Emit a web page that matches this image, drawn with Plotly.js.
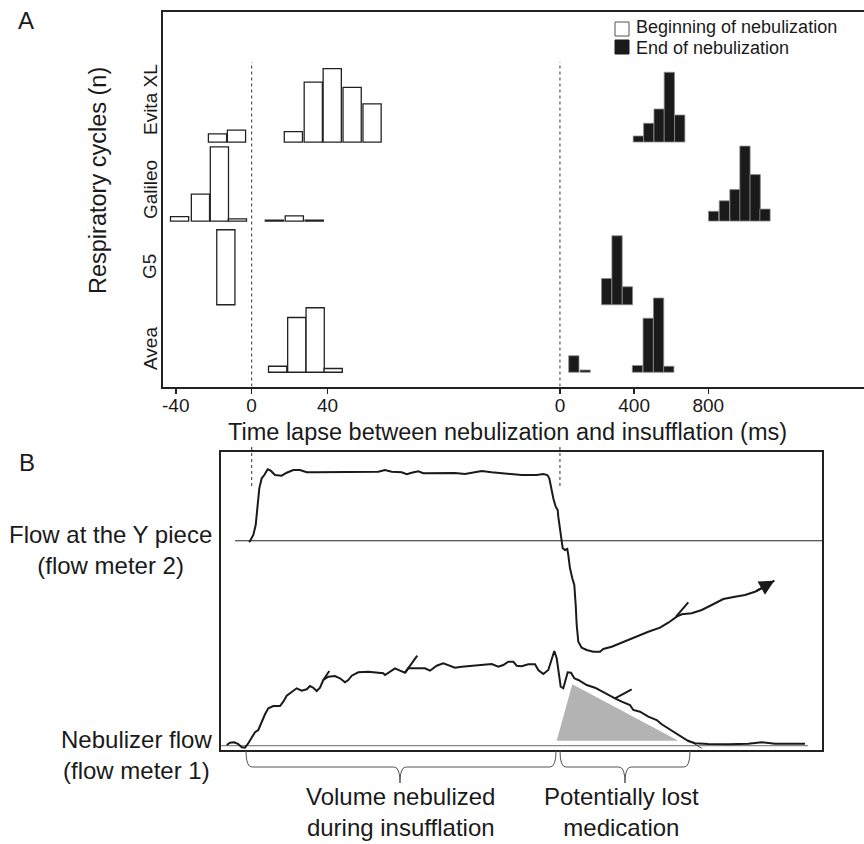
<!DOCTYPE html>
<html><head><meta charset="utf-8">
<script src="https://cdn.plot.ly/plotly-3.0.1.min.js"></script>
<style>html,body{margin:0;padding:0;background:#fff}#chart{width:864px;height:844px}</style>
</head><body><div id="chart"></div>
<script>
// ---------------- DATA (panel A: histograms, respiratory cycles n) ----------------
const groups = ['Avea', 'G5', 'Galileo', 'Evita XL'];
// Beginning of nebulization (ms, bin centres) and counts
const beginAveaMs = [13.7, 23.8, 33.5, 43];
const beginAveaN  = [4, 36.5, 43, 2.5];
const beginG5Ms   = [-13.6];
const beginG5N    = [50];
const beginGalileoMs = [-38, -27, -17, -7.5, 12, 22.5, 33];
const beginGalileoN  = [3, 18, 49.5, 1.5, 0.6, 3.5, 0.6];
const beginEvitaMs = [-18, -8, 22, 32.5, 42.5, 53, 63.5];
const beginEvitaN  = [5.5, 8, 7, 40, 49, 36.5, 25.5];
// End of nebulization (ms, bin centres) and counts
const endAveaMs = [75, 136, 418, 476, 532, 587];
const endAveaN  = [11, 1.5, 4.5, 36, 49.5, 4];
const endG5Ms   = [252, 308, 364];
const endG5N    = [17.5, 46, 12];
const endGalileoMs = [829, 887, 944, 998, 1053, 1106];
const endGalileoN  = [6.5, 13.5, 21, 50, 31, 8];
const endEvitaMs = [423, 479, 535, 590, 646];
const endEvitaN  = [4, 12.5, 22, 46.5, 18];
const tickBeginVals = [-40, 0, 40];
const tickBeginText = ['-40', '0', '40'];
const tickEndVals = [0, 400, 800];
const tickEndText = ['0', '400', '800'];

// ---------------- DATA (panel B: schematic flow traces, arbitrary units) ----------------
const yPieceT = [28.3,32.3,34.7,36.3,38.3,40.7,43.3,46.7,49.7,54,60.7,65.7,72.3,79,85.7,94,127.3,157.3,164,170.7,180.7,185.7,190.7,197.3,202.3,214,227.3,234,244,254,260.7,270.7,284,300.7,307.3,315.7,322.3,326.3,328.3,330,332.3,334.7,336.7,337.3,339,340.7,341.7,344,346.3,347.3,349,351.3,353.3,354.7,355.7,357.3,360.7,365.7,372.3,379,382.3,390.7,404,417.3,427.3,439,447.3,455.7,460.7,470.7,480.7,490.7,502.3,514,524,534,544,553.3];
const yPieceFlow = [207.7,215,225,245,261.7,271.7,275,280.7,279.3,275,274.3,277.3,280,280,277.7,277.7,277.7,278.3,280,278.3,277.7,275.7,277.3,278.7,276.7,277,277.3,277,276,277.7,279,277.7,276.3,275,275,275,276,275,271.7,261.7,251.7,243.3,240,233.3,221.7,208.3,201.7,200,201,195,181.7,171.7,165,145,125,108.3,102.3,100,98.3,98.3,101,103.3,109,114.3,118.3,122.3,127.3,133.3,135.7,136.7,140,145,151,153.3,155,158.3,163.3,169.3];
const yPieceZeroT = [14, 601];
const yPieceZeroFlow = [209.3, 209.3];
const nebT = [5.7,9,13.3,17.3,20.7,24,27.3,30.7,34,37.3,40.7,44,47.3,52.3,59,62.3,65.7,70.7,75.7,80.7,85.7,89,92.3,95.7,99,102.3,107.3,114,119,124,127.3,130.7,137.3,147.3,162.3,164,169,174,179,184,187.3,194,204,209,215.7,222.3,227.3,234,240.7,250.7,260.7,270.7,277.3,282.3,287.3,292.3,295.7,300.7,307.3,314,317.3,322.3,327.3,330.7,333.3,335.7,337.3,339.7,342.3,344,346.7,350,353.3,357.3,360.7,365.7,374,380.7,387.3,394,400.7,409,412.3,419,427.3,435.7,440.7,447.3,454,460.7,467.3,474,487.3,507.3,527.3,540.7,554,570.7,584];
const nebFlow = [5,7.3,7.7,6,2.7,2.3,6.7,11.7,17.7,20,28.3,35.7,41.7,44,44,48.3,54.3,58.3,61.7,59.3,60.7,64,62.3,59,62.3,70,73.3,74,71.7,67.7,70,74.3,77.7,78.3,76.7,75,78.3,81.7,79.3,77.3,81.7,81.7,81.7,79.3,84.3,86.7,85,82.3,83.3,84,85,86,83.3,85,88.3,88.3,84.3,83.7,85.7,85.7,80,76,80,91.7,99,91.7,78.3,63.3,61.7,68.3,77.7,77.3,71.7,70,67.7,65,62.3,59,55.7,51.7,48.3,45,40,38.3,33.3,30,25.7,21.7,17.7,13.3,9,6.7,6,5.7,6.3,7.7,6.3,6.3,6.3];
const nebZeroT = [0, 587];
const nebZeroFlow = [4.3, 4.3];
const lostT = [335.7, 351.3, 457.3];
const lostFlow = [9.3, 65.7, 9.3];
// small hand-drawn strokes on the traces
const strokeT = [102.3,108.3,null,184,196.3,null,394,410.7,null,455,467.3];
const strokeFlow = [70,79,null,77.3,94.3,null,51.7,60.7,null,133.3,147.7];
const tailT = [467.3, 480.7];
const tailFlow = [10, 1.7];

// ---------------- LAYOUT helpers (figure pixels -> paper) ----------------
const W = 864, H = 844;
const PX = p => p / W, PY = p => 1 - p / H;
const INK = '#1a1a1a';
const FONT = 'Liberation Sans, Arial, Helvetica, sans-serif';
// stacked histogram baselines and label centres (y units)
const groupBase = {'Avea': 9.5, 'G5': 54.5, 'Galileo': 110.3, 'Evita XL': 163};
const groupLabelY = {'Avea': 25, 'G5': 79.7, 'Galileo': 131, 'Evita XL': 191};

const xA1 = {domain: [PX(162.7), PX(450)], range: [-46.9, 104.6]};
const xA2 = {domain: [PX(450), 1], range: [-593, 1640]};
const yA = {domain: [PY(386.5), PY(12)], range: [0, 249.7]};

function toPaperX(ax, v) {
  return ax.domain[0] + (v - ax.range[0]) / (ax.range[1] - ax.range[0]) * (ax.domain[1] - ax.domain[0]);
}

const traces = [];
function beginBars(x, n, g) {
  traces.push({type: 'bar', x: x, y: n, base: groupBase[g], width: 9.6, xaxis: 'x', yaxis: 'y',
    marker: {color: '#ffffff', line: {color: '#222', width: 1.3}}, showlegend: false, hoverinfo: 'x+y'});
}
function endBars(x, n, g) {
  traces.push({type: 'bar', x: x, y: n, base: groupBase[g], width: 55.5, xaxis: 'x2', yaxis: 'y',
    marker: {color: INK, line: {color: '#8a8a8a', width: 0.8}}, showlegend: false, hoverinfo: 'x+y'});
}
beginBars(beginAveaMs, beginAveaN, 'Avea');
beginBars(beginG5Ms, beginG5N, 'G5');
beginBars(beginGalileoMs, beginGalileoN, 'Galileo');
beginBars(beginEvitaMs, beginEvitaN, 'Evita XL');
endBars(endAveaMs, endAveaN, 'Avea');
endBars(endG5Ms, endG5N, 'G5');
endBars(endGalileoMs, endGalileoN, 'Galileo');
endBars(endEvitaMs, endEvitaN, 'Evita XL');

// panel B traces
const lineB = (x, y, w, c) => ({type: 'scatter', mode: 'lines', x: x, y: y, xaxis: 'x3', yaxis: 'y3',
  line: {color: c || INK, width: w || 2}, showlegend: false, hoverinfo: 'skip'});
traces.push({type: 'scatter', mode: 'lines', x: lostT, y: lostFlow, fill: 'toself', fillcolor: '#b3b3b3',
  line: {width: 0, color: '#b3b3b3'}, xaxis: 'x3', yaxis: 'y3', showlegend: false, hoverinfo: 'skip'});
traces.push(lineB(yPieceZeroT, yPieceZeroFlow, 1.1, '#222'));
traces.push(lineB(nebZeroT, nebZeroFlow, 1.3, '#888'));
traces.push(lineB(tailT, tailFlow, 1, '#444'));
traces.push(lineB(yPieceT, yPieceFlow, 2));
traces.push(lineB(nebT, nebFlow, 2));
traces.push(lineB(strokeT, strokeFlow, 2));

const annotations = [];
const nY = yPieceT.length;
// arrow head at the end of the Y-piece flow trace
annotations.push({x: yPieceT[nY - 1], y: yPieceFlow[nY - 1], ax: yPieceT[nY - 3], ay: yPieceFlow[nY - 3],
  xref: 'x3', yref: 'y3', axref: 'x3', ayref: 'y3', text: '', showarrow: true,
  arrowhead: 2, arrowsize: 1.5, arrowwidth: 2, arrowcolor: INK});
const txt = (text, x, y, size, extra) => annotations.push(Object.assign({text: text, x: PX(x), y: PY(y),
  xref: 'paper', yref: 'paper', showarrow: false, xanchor: 'center', yanchor: 'middle',
  font: {family: FONT, size: size, color: INK}}, extra || {}));
txt('A', 26, 21, 24);
txt('B', 27, 462, 24);
txt('Respiratory cycles (n)', 98, 181, 23.5, {textangle: -90});
groups.forEach(g => annotations.push({text: g, x: PX(150), y: groupLabelY[g], xref: 'paper', yref: 'y',
  showarrow: false, textangle: -90, xanchor: 'center', yanchor: 'middle', font: {family: FONT, size: 19, color: INK}}));
txt('Time lapse between nebulization and insufflation (ms)', 507, 432, 23.5);
txt('Beginning of nebulization', 635, 27.5, 18, {xanchor: 'left', borderpad: 0});
txt('End of nebulization', 635, 48.5, 18, {xanchor: 'left', borderpad: 0});
txt('Flow at the Y piece<br>(flow meter 2)', 111, 550, 24);
txt('Nebulizer flow<br>(flow meter 1)', 136, 755, 24);
txt('Volume nebulized<br>during insufflation', 400, 812, 24);
txt('Potentially lost<br>medication', 621, 812, 24);

// braces (pixel path -> paper path)
function brace(x0, x1, xm, yTop, yMid, yTip) {
  const P = (x, y) => PX(x).toFixed(5) + ',' + PY(y).toFixed(5);
  return 'M' + P(x0, yTop) + ' Q' + P(x0, yMid) + ' ' + P(x0 + 6, yMid) + ' L' + P(xm - 6, yMid) +
    ' Q' + P(xm, yMid) + ' ' + P(xm, yTip) + ' Q' + P(xm, yMid) + ' ' + P(xm + 6, yMid) +
    ' L' + P(x1 - 6, yMid) + ' Q' + P(x1, yMid) + ' ' + P(x1, yTop);
}
const shapes = [
  {type: 'line', xref: 'x', yref: 'y', x0: 0, x1: 0, y0: 0, y1: 216.3, line: {color: '#555', width: 1.2, dash: 'dot'}},
  {type: 'line', xref: 'x2', yref: 'y', x0: 0, x1: 0, y0: 0, y1: 216.3, line: {color: '#555', width: 1.2, dash: 'dot'}},
  {type: 'line', xref: 'paper', yref: 'paper', x0: toPaperX(xA1, 0), x1: toPaperX(xA1, 0), y0: PY(447), y1: PY(486), line: {color: '#555', width: 1.2, dash: 'dot'}},
  {type: 'line', xref: 'paper', yref: 'paper', x0: toPaperX(xA2, 0), x1: toPaperX(xA2, 0), y0: PY(447), y1: PY(486), line: {color: '#555', width: 1.2, dash: 'dot'}},
  {type: 'rect', xref: 'paper', yref: 'paper', x0: PX(615), x1: PX(629), y0: PY(36), y1: PY(22), fillcolor: '#fff', line: {color: '#555', width: 1}},
  {type: 'rect', xref: 'paper', yref: 'paper', x0: PX(615), x1: PX(629), y0: PY(54), y1: PY(40), fillcolor: INK, line: {color: INK, width: 1}},
  {type: 'path', xref: 'paper', yref: 'paper', path: brace(246, 556, 400, 751, 767, 783), line: {color: '#555', width: 1}},
  {type: 'path', xref: 'paper', yref: 'paper', path: brace(560, 690, 625, 751, 767, 783), line: {color: '#555', width: 1}}
];

const axBase = {showgrid: false, zeroline: false, linecolor: '#222', linewidth: 2,
  tickfont: {family: FONT, size: 19, color: INK}};
const layout = {
  width: W, height: H, autosize: false, margin: {l: 0, r: 0, t: 0, b: 0},
  paper_bgcolor: '#fff', plot_bgcolor: 'rgba(0,0,0,0)', barmode: 'overlay', showlegend: false,
  font: {family: FONT, color: INK},
  xaxis: Object.assign({}, axBase, {domain: xA1.domain, range: xA1.range, anchor: 'y', showline: true, mirror: true,
    ticks: 'outside', ticklen: 5, tickwidth: 1.5, tickcolor: '#222', ticklabelstandoff: -4,
    tickvals: tickBeginVals, ticktext: tickBeginText}),
  xaxis2: Object.assign({}, axBase, {domain: xA2.domain, range: xA2.range, anchor: 'y', showline: true, mirror: true,
    ticks: 'outside', ticklen: 5, tickwidth: 1.5, tickcolor: '#222', ticklabelstandoff: -4,
    tickvals: tickEndVals, ticktext: tickEndText}),
  yaxis: Object.assign({}, axBase, {domain: yA.domain, range: yA.range, anchor: 'x', showline: true, mirror: false,
    ticks: '', showticklabels: false}),
  xaxis3: Object.assign({}, axBase, {domain: [PX(221), PX(822)], range: [0, 601], anchor: 'y3', showline: true, mirror: true,
    ticks: '', showticklabels: false}),
  yaxis3: Object.assign({}, axBase, {domain: [PY(750), PY(452)], range: [0, 298], anchor: 'x3', showline: true, mirror: true,
    ticks: '', showticklabels: false}),
  annotations: annotations, shapes: shapes
};
Plotly.newPlot('chart', traces, layout, {displayModeBar: false, staticPlot: true});
</script></body></html>
